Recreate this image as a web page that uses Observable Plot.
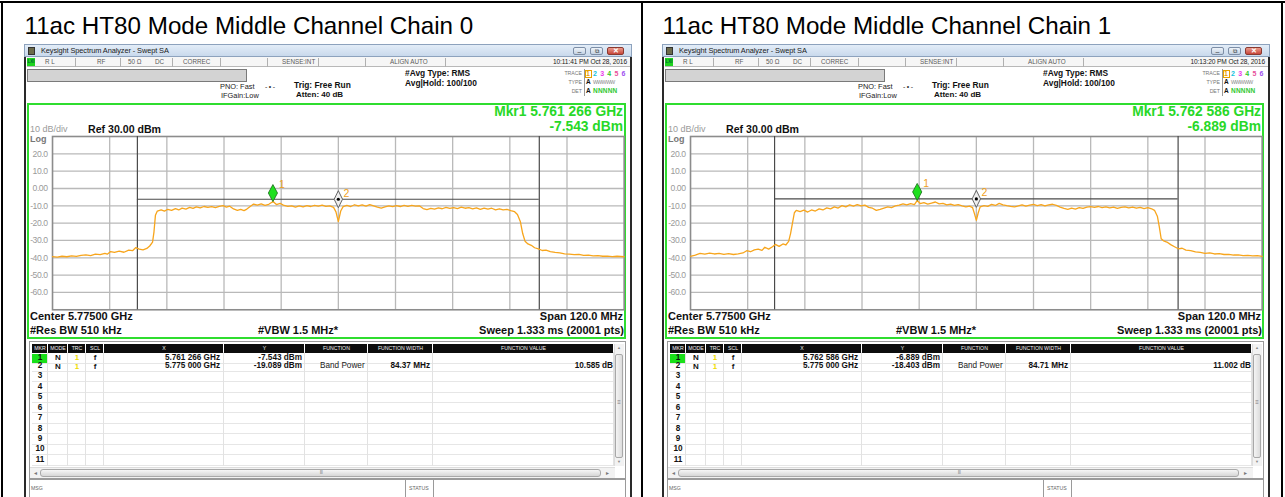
<!DOCTYPE html>
<html><head><meta charset="utf-8">
<script src="https://cdn.jsdelivr.net/npm/d3@7"></script>
<script src="https://cdn.jsdelivr.net/npm/@observablehq/plot@0.6"></script>
<style>
body{margin:0;background:#fff;}
#root{position:relative;width:1285px;height:497px;overflow:hidden;background:#fff;font-family:"Liberation Sans",Arial,sans-serif;}
.abs{position:absolute;white-space:nowrap;}
.bx{position:absolute;box-sizing:border-box;}
</style></head><body><div id="root"></div>
<script>
// ---------------- data ----------------
const titles = ["11ac HT80 Mode Middle Channel Chain 0", "11ac HT80 Mode Middle Channel Chain 1"];
const timestamps = ["10:11:41 PM Oct 28, 2016", "10:13:20 PM Oct 28, 2016"];
const mkr1Freq = [5.761266, 5.762586];
const mkr1Dbm = [-7.543, -6.889];
const mkr1FreqText = ["5.761 266 GHz", "5.762 586 GHz"];
const mkr1DbmText = ["-7.543 dBm", "-6.889 dBm"];
const mkr2Freq = [5.775, 5.775];
const mkr2Dbm = [-19.089, -18.403];
const mkr2FreqText = ["5.775 000 GHz", "5.775 000 GHz"];
const mkr2DbmText = ["-19.089 dBm", "-18.403 dBm"];
const bandWidthMHz = [84.37, 84.71];
const bandLineDbm = [-6.2, -6.0];
const bandPowerText = ["10.585 dB", "11.002 dB"];
const yTicks = [20, 10, 0, -10, -20, -30, -40, -50, -60];
const yTickLabels = ["20.0", "10.0", "0.00", "-10.0", "-20.0", "-30.0", "-40.0", "-50.0", "-60.0"];
const xGrid = [5.727, 5.739, 5.751, 5.763, 5.775, 5.787, 5.799, 5.811, 5.823];
const xDomain = [5.715, 5.835];
const yDomain = [-70, 30];

const freq0 = [5.7150,5.7160,5.7170,5.7180,5.7190,5.7200,5.7210,5.7220,5.7230,5.7240,5.7250,5.7260,5.7265,5.7272,5.7280,5.7290,5.7300,5.7310,5.7318,5.7325,5.7332,5.7340,5.7348,5.7354,5.7360,5.7363,5.7366,5.7370,5.7378,5.7385,5.7392,5.7400,5.7408,5.7415,5.7422,5.7430,5.7438,5.7445,5.7452,5.7460,5.7468,5.7476,5.7484,5.7492,5.7500,5.7508,5.7515,5.7522,5.7530,5.7538,5.7545,5.7552,5.7558,5.7565,5.7572,5.7580,5.7588,5.7596,5.7604,5.7613,5.7620,5.7628,5.7636,5.7644,5.7652,5.7660,5.7668,5.7676,5.7684,5.7692,5.7700,5.7708,5.7716,5.7724,5.7732,5.7740,5.7745,5.7750,5.7755,5.7760,5.7768,5.7776,5.7784,5.7792,5.7800,5.7808,5.7816,5.7824,5.7832,5.7840,5.7848,5.7856,5.7864,5.7872,5.7880,5.7888,5.7896,5.7904,5.7912,5.7920,5.7928,5.7936,5.7944,5.7952,5.7960,5.7968,5.7976,5.7984,5.7992,5.8000,5.8008,5.8016,5.8024,5.8032,5.8040,5.8048,5.8056,5.8064,5.8072,5.8080,5.8088,5.8096,5.8104,5.8112,5.8120,5.8126,5.8132,5.8137,5.8142,5.8148,5.8155,5.8162,5.8170,5.8178,5.8186,5.8195,5.8205,5.8215,5.8225,5.8235,5.8245,5.8255,5.8265,5.8275,5.8285,5.8295,5.8305,5.8315,5.8325,5.8335,5.8350];
const dbm0 = [-39.3,-39.6,-39.1,-39.4,-38.9,-39.2,-38.6,-38.3,-38.7,-37.9,-38.2,-37.5,-37.9,-36.4,-36.9,-36.2,-36.8,-35.6,-35.9,-34.1,-35.0,-35.4,-34.6,-33.2,-31.0,-25.0,-15.5,-13.0,-12.3,-13.1,-12.0,-12.6,-11.6,-12.4,-11.3,-11.9,-10.9,-11.5,-10.6,-11.2,-10.4,-10.9,-10.5,-11.0,-10.3,-9.9,-10.8,-10.2,-11.8,-12.6,-12.1,-12.8,-11.9,-10.4,-9.0,-9.6,-8.9,-9.7,-9.1,-7.5,-9.3,-8.6,-9.8,-10.3,-10.0,-10.7,-10.1,-10.6,-9.9,-10.4,-9.7,-10.2,-9.6,-10.3,-10.0,-10.9,-13.5,-19.1,-13.0,-10.5,-9.8,-10.4,-9.4,-10.1,-9.5,-10.2,-9.3,-10.0,-10.8,-11.3,-10.6,-10.1,-10.5,-9.9,-10.4,-9.8,-10.3,-9.7,-10.2,-10.0,-11.6,-12.2,-11.5,-11.9,-11.2,-11.7,-10.9,-11.5,-11.0,-11.6,-10.8,-11.4,-11.1,-11.8,-11.2,-12.0,-11.3,-11.9,-11.4,-12.3,-11.7,-12.4,-12.0,-12.8,-13.4,-15.0,-19.0,-26.0,-30.5,-32.0,-32.8,-34.2,-34.9,-35.8,-35.6,-36.4,-36.9,-37.2,-37.7,-37.9,-38.2,-38.0,-38.6,-38.5,-38.9,-38.7,-39.1,-39.0,-39.3,-39.1,-39.4];

const freq1 = [5.7150,5.7160,5.7170,5.7180,5.7190,5.7200,5.7210,5.7220,5.7230,5.7240,5.7250,5.7260,5.7268,5.7276,5.7284,5.7292,5.7300,5.7306,5.7314,5.7322,5.7328,5.7336,5.7344,5.7350,5.7356,5.7360,5.7364,5.7368,5.7372,5.7380,5.7388,5.7396,5.7404,5.7412,5.7420,5.7428,5.7436,5.7444,5.7452,5.7460,5.7468,5.7476,5.7484,5.7492,5.7500,5.7508,5.7516,5.7524,5.7532,5.7540,5.7548,5.7556,5.7564,5.7572,5.7580,5.7588,5.7596,5.7604,5.7612,5.7620,5.7626,5.7632,5.7640,5.7648,5.7656,5.7664,5.7672,5.7680,5.7688,5.7696,5.7704,5.7712,5.7720,5.7728,5.7736,5.7742,5.7746,5.7750,5.7754,5.7758,5.7766,5.7774,5.7782,5.7790,5.7798,5.7806,5.7814,5.7822,5.7830,5.7838,5.7846,5.7854,5.7862,5.7870,5.7878,5.7886,5.7894,5.7902,5.7910,5.7918,5.7926,5.7934,5.7942,5.7950,5.7958,5.7966,5.7974,5.7982,5.7990,5.7998,5.8006,5.8014,5.8022,5.8030,5.8038,5.8046,5.8054,5.8062,5.8070,5.8078,5.8086,5.8094,5.8102,5.8110,5.8118,5.8124,5.8130,5.8134,5.8138,5.8143,5.8150,5.8158,5.8166,5.8174,5.8182,5.8190,5.8200,5.8210,5.8220,5.8230,5.8240,5.8250,5.8260,5.8270,5.8280,5.8290,5.8300,5.8310,5.8320,5.8330,5.8340,5.8350];
const dbm1 = [-39.2,-38.4,-37.5,-37.9,-37.3,-37.8,-37.4,-38.0,-37.6,-38.1,-37.7,-37.2,-35.9,-36.5,-35.4,-35.0,-35.7,-33.9,-35.0,-33.6,-32.3,-33.4,-32.0,-32.6,-30.5,-26.0,-20.0,-14.0,-12.6,-13.3,-12.5,-13.6,-12.4,-13.0,-11.8,-12.4,-11.2,-11.8,-10.6,-11.3,-9.9,-10.6,-9.5,-10.2,-9.3,-10.1,-9.6,-10.9,-11.4,-12.6,-12.0,-11.3,-10.6,-11.0,-10.0,-9.6,-8.9,-9.5,-8.8,-9.3,-6.9,-8.7,-8.2,-9.0,-8.4,-7.8,-8.9,-8.6,-9.4,-9.0,-9.8,-9.3,-10.1,-10.6,-10.2,-11.0,-14.5,-18.4,-14.0,-10.6,-9.9,-10.3,-9.2,-9.8,-8.6,-9.4,-9.9,-10.3,-10.6,-10.1,-9.5,-10.2,-9.6,-9.2,-9.9,-9.3,-10.0,-9.4,-9.1,-9.8,-10.7,-11.5,-12.0,-11.4,-11.9,-11.0,-11.5,-10.8,-10.5,-10.9,-10.4,-11.1,-10.6,-11.2,-10.8,-11.5,-10.9,-10.6,-11.2,-10.7,-11.4,-10.9,-11.6,-11.1,-11.7,-12.6,-16.0,-22.0,-29.0,-30.2,-30.9,-32.4,-33.6,-34.8,-34.5,-35.6,-35.9,-36.6,-36.9,-37.4,-37.2,-37.8,-37.6,-38.1,-38.0,-38.4,-38.3,-38.7,-38.6,-38.9,-38.8,-39.2];

const freqs = [freq0, freq1];
const dbms = [dbm0, dbm1];

// ---------------- layout helpers ----------------
const W = 1285;
const root = document.getElementById("root");
function txt(x, y, s, o = {}) {
  const fs = o.fs || 8;
  const d = document.createElement("div");
  d.className = "abs";
  d.textContent = s;
  d.style.fontSize = fs + "px";
  d.style.lineHeight = fs + "px";
  d.style.top = (y - 0.49 * fs) + "px";
  if (o.align === "right") d.style.right = (W - x) + "px";
  else if (o.align === "center") { d.style.left = x + "px"; d.style.transform = "translateX(-50%)"; }
  else d.style.left = x + "px";
  d.style.color = o.color || "#000";
  if (o.bold) d.style.fontWeight = "bold";
  if (o.family) d.style.fontFamily = o.family;
  if (o.ls != null) d.style.letterSpacing = o.ls + "px";
  root.appendChild(d);
  return d;
}
function box(x, y, w, h, css = "") {
  const d = document.createElement("div");
  d.className = "bx";
  d.style.cssText = `left:${x}px;top:${y}px;width:${w}px;height:${h}px;` + css;
  root.appendChild(d);
  return d;
}

// outer table borders
box(0, 1, 1285, 2, "background:#000");
box(1, 1, 2, 496, "background:#000");
box(641, 1, 2, 496, "background:#000");
box(1281, 1, 2, 496, "background:#000");

// tall diamond symbols for markers
const tipDiamond = { draw(c) { c.moveTo(0, 0); c.lineTo(4.6, -8.5); c.lineTo(0, -17); c.lineTo(-4.6, -8.5); c.closePath(); } };
const midDiamond = { draw(c) { c.moveTo(0, -8.5); c.lineTo(4.2, 0); c.lineTo(0, 8.5); c.lineTo(-4.2, 0); c.closePath(); } };

const panelX = [24, 662];
const gridLeftRel = 28.3, gridW = 571.7, gridTop = 136, gridH = 173.3;
const green = "#2fdd2f";
const traceColor = "#f7a51c";

panelX.forEach((ox, i) => {
  // title
  txt(ox + 0.5, 26.3, titles[i], { fs: 24.2 });

  // window
  box(ox, 44, 608, 453, "background:#fff;border-left:2.5px solid #2a2a2a;border-right:2.5px solid #2a2a2a;");
  // title bar
  box(ox, 44, 608, 13, "background:linear-gradient(#e3edf8,#c9d9ec);border:1px solid #8da2bd;");
  box(ox + 4, 46.5, 7, 8, "background:#6b6a4a;border:1px solid #333;");
  txt(ox + 17, 50.8, "Keysight Spectrum Analyzer - Swept SA", { fs: 7.4, color: "#1a1a1a", ls: -0.1 });
  box(ox + 549, 46.5, 13, 8.5, "background:linear-gradient(#eef3f9,#c4d2e3);border:1px solid #7d8ea6;border-radius:2px;");
  box(ox + 566, 46.5, 13, 8.5, "background:linear-gradient(#eef3f9,#c4d2e3);border:1px solid #7d8ea6;border-radius:2px;");
  box(ox + 583, 46.5, 17, 8.5, "background:linear-gradient(#e99a8c,#c8473a);border:1px solid #8a3a30;border-radius:2px;");
  txt(ox + 555.5, 51.5, "–", { fs: 7, color: "#333", align: "center" });
  txt(ox + 572.5, 50.8, "⧉", { fs: 6, color: "#333", align: "center" });
  txt(ox + 591.5, 50.8, "✕", { fs: 6.5, color: "#fff", align: "center", bold: true });

  // status row
  box(ox + 2.5, 57, 603, 10, "background:#f6f6f6;border-bottom:1px solid #b8b8b8;");
  box(ox + 3, 58, 8, 8, `background:#1ed41e;`);
  txt(ox + 3.5, 62, "LXI", { fs: 4.5, color: "#063", bold: true });
  const st = [["R L", 21], ["RF", 73], ["50 Ω", 104], ["DC", 131], ["CORREC", 159], ["SENSE:INT", 258], ["ALIGN AUTO", 366]];
  st.forEach(([s, x]) => txt(ox + x, 62, s, { fs: 6.3, color: "#5a5a5a" }));
  [51, 96, 148, 196, 243, 294, 341, 421].forEach(x => box(ox + x, 57.5, 1, 9, "background:#b0b0b0;"));
  txt(ox + 603, 62, timestamps[i], { fs: 6.6, color: "#222", align: "right", ls: -0.1 });

  // header area
  box(ox + 3, 68.5, 220, 13.5, "background:#d3d3d3;border:1px solid #7a7a7a;");
  txt(ox + 196, 87, "PNO: Fast", { fs: 7.4, color: "#222" });
  txt(ox + 197, 96, "IFGain:Low", { fs: 7.4, color: "#222" });
  txt(ox + 241, 86.5, "-•-", { fs: 7, color: "#333", ls: 1.5 });
  txt(ox + 270, 85, "Trig: Free Run", { fs: 8.4, bold: true, color: "#111" });
  txt(ox + 272, 95, "Atten: 40 dB", { fs: 8, bold: true, color: "#111" });
  txt(ox + 381, 73.5, "#Avg Type: RMS", { fs: 8.4, bold: true, color: "#111" });
  txt(ox + 381, 83.5, "Avg|Hold: 100/100", { fs: 8.4, bold: true, color: "#111" });
  txt(ox + 558, 73.5, "TRACE", { fs: 5.2, color: "#777", align: "right" });
  txt(ox + 558, 82.5, "TYPE", { fs: 5.2, color: "#777", align: "right" });
  txt(ox + 558, 91.5, "DET", { fs: 5.2, color: "#777", align: "right" });
  box(ox + 559.5, 68.5, 44, 27, "border-left:1px solid #999;");
  const trC = ["#e9a000", "#14c3de", "#ea3aea", "#2ec82e", "#e8509a", "#a050f0"];
  trC.forEach((c, k) => txt(ox + 562 + k * 7.1, 73.5, String(k + 1), { fs: 7, color: c, bold: true }));
  box(ox + 560.5, 69.5, 7, 8, "border:1px solid #e9a000;");
  txt(ox + 562, 82.5, "A", { fs: 6.5, bold: true, color: "#111" });
  txt(ox + 569, 82.5, "WWWWW", { fs: 5.2, color: "#888", ls: -0.6 });
  txt(ox + 562, 91.5, "A", { fs: 6.5, bold: true, color: "#111" });
  txt(ox + 569, 91.5, "NNNNN", { fs: 6.5, bold: true, color: "#2ec82e", ls: 0.2 });

  // green display frame
  box(ox + 3, 103, 599, 236, `border:2.5px solid ${green};`);
  txt(ox + 599, 112, "Mkr1 " + mkr1FreqText[i], { fs: 13.8, bold: true, color: "#28d828", align: "right" });
  txt(ox + 599, 126.5, mkr1DbmText[i], { fs: 13.8, bold: true, color: "#28d828", align: "right" });
  txt(ox + 6, 129.6, "10 dB/div", { fs: 9, color: "#9a9a9a" });
  txt(ox + 6, 139.2, "Log", { fs: 9, color: "#777", bold: true });
  txt(ox + 64, 129.5, "Ref 30.00 dBm", { fs: 10.6, bold: true, color: "#111" });
  txt(ox + 6, 316, "Center 5.77500 GHz", { fs: 11, bold: true, color: "#111" });
  txt(ox + 599, 316, "Span 120.0 MHz", { fs: 11, bold: true, color: "#111", align: "right" });
  txt(ox + 6, 330.5, "#Res BW 510 kHz", { fs: 11, bold: true, color: "#111" });
  txt(ox + 234, 330.5, "#VBW 1.5 MHz*", { fs: 11, bold: true, color: "#111" });
  txt(ox + 600, 330.5, "Sweep  1.333 ms (20001 pts)", { fs: 11, bold: true, color: "#111", align: "right" });

  // ---- the spectrum plot ----
  const trace = freqs[i].map((f, k) => ({ f, p: dbms[i][k] }));
  const tickRows = yTicks.map((v, k) => ({ v, s: yTickLabels[k] }));
  const bLo = 5.775 - bandWidthMHz[i] / 2000, bHi = 5.775 + bandWidthMHz[i] / 2000;
  const mL = 40, mR = 3, mT = 4, mB = 4;
  const plot = Plot.plot({
    width: mL + gridW + mR,
    height: mT + gridH + mB,
    marginLeft: mL, marginRight: mR, marginTop: mT, marginBottom: mB,
    x: { domain: xDomain, axis: null },
    y: { domain: yDomain, axis: null },
    style: { background: "transparent", fontFamily: "Liberation Sans, Arial, sans-serif", overflow: "visible" },
    marks: [
      Plot.gridY(yTicks, { stroke: "#b9b9b9", strokeOpacity: 1, strokeWidth: 1.3 }),
      Plot.gridX(xGrid, { stroke: "#b9b9b9", strokeOpacity: 1, strokeWidth: 1.3 }),
      Plot.text(tickRows, { x: xDomain[0], y: "v", text: "s", textAnchor: "end", dx: -5, fill: "#9a9a9a", fontSize: 8.6 }),
      Plot.frame({ stroke: "#8c8c8c", strokeWidth: 1.6 }),
      Plot.ruleX([bLo, bHi], { stroke: "#4a4a4a", strokeWidth: 1.2 }),
      Plot.ruleY([bandLineDbm[i]], { x1: bLo, x2: bHi, stroke: "#4a4a4a", strokeWidth: 1.1 }),
      Plot.line(trace, { x: "f", y: "p", stroke: traceColor, strokeWidth: 1.3 }),
      Plot.dot([{ f: mkr1Freq[i], p: mkr1Dbm[i] }], { x: "f", y: "p", symbol: tipDiamond, fill: "#1fe01f", stroke: "#1a6a1a", strokeWidth: 0.8, r: 5 }),
      Plot.text([{ f: mkr1Freq[i], p: mkr1Dbm[i] }], { x: "f", y: "p", text: () => "1", dx: 9, dy: -17, fill: "#f0a020", fontSize: 10.5 }),
      Plot.dot([{ f: mkr2Freq[i], p: bandLineDbm[i] }], { x: "f", y: "p", symbol: midDiamond, fill: "#eeeeee", stroke: "#555", strokeWidth: 0.9, r: 5 }),
      Plot.dot([{ f: mkr2Freq[i], p: bandLineDbm[i] }], { x: "f", y: "p", r: 1.6, fill: "#000", stroke: "none" }),
      Plot.text([{ f: mkr2Freq[i], p: bandLineDbm[i] }], { x: "f", y: "p", text: () => "2", dx: 8, dy: -6, fill: "#f0a020", fontSize: 10.5 })
    ]
  });
  d3.select(plot).selectAll("text").filter(function () { return /\d\.\d/.test(this.textContent); })
    .style("letter-spacing", "-0.45px");
  plot.style.position = "absolute";
  plot.style.left = (ox + gridLeftRel - mL) + "px";
  plot.style.top = (gridTop - mT) + "px";
  root.appendChild(plot);

  // ---- marker table ----
  const cols = [["MKR", 8, 24], ["MODE", 24, 44], ["TRC", 44, 62], ["SCL", 62, 80], ["X", 80, 200], ["Y", 200, 281], ["FUNCTION", 281, 344], ["FUNCTION WIDTH", 344, 409], ["FUNCTION VALUE", 409, 590]];
  box(ox + 5, 341, 597, 138, "border:1px solid #9a9a9a;");
  cols.forEach(([s, a, b]) => {
    box(ox + a, 344, b - a - 1, 8.5, "background:#0d0d0d;");
    txt(ox + (a + b) / 2, 348.3, s, { fs: 5.2, color: "#f2f2f2", align: "center" });
  });
  const rowY = [358, 366.5, 376.5, 386.9, 397.3, 407.8, 418.2, 428.6, 439.1, 449.5, 460];
  rowY.forEach(y => box(ox + 8, y + 4.6, 582, 1, "background:#e6e6e6;"));
  cols.forEach(([s, a, b]) => box(ox + b - 1, 352, 1, 114, "background:#e2e2e2;"));
  box(ox + 8, 354, 15, 8.5, "background:#19e019;");
  rowY.forEach((y, k) => txt(ox + 16, y, String(k + 1), { fs: 8.2, bold: true, color: "#111", align: "center" }));
  [0, 1].forEach(r => {
    const y = rowY[r];
    txt(ox + 34, y, "N", { fs: 8, bold: true, color: "#111", align: "center" });
    txt(ox + 53, y, "1", { fs: 8, bold: true, color: "#f0dc00", align: "center" });
    txt(ox + 71, y, "f", { fs: 8, bold: true, color: "#111", align: "center" });
  });
  txt(ox + 196, rowY[0], mkr1FreqText[i], { fs: 8.2, bold: true, color: "#111", align: "right" });
  txt(ox + 278, rowY[0], mkr1DbmText[i], { fs: 8.2, bold: true, color: "#111", align: "right" });
  txt(ox + 196, rowY[1], mkr2FreqText[i], { fs: 8.2, bold: true, color: "#111", align: "right" });
  txt(ox + 278, rowY[1], mkr2DbmText[i], { fs: 8.2, bold: true, color: "#111", align: "right" });
  txt(ox + 296, rowY[1], "Band Power", { fs: 8.2, color: "#222" });
  txt(ox + 406, rowY[1], bandWidthMHz[i].toFixed(2) + " MHz", { fs: 8.2, bold: true, color: "#111", align: "right" });
  txt(ox + 589, rowY[1], bandPowerText[i], { fs: 8.2, bold: true, color: "#111", align: "right" });

  // vertical scrollbar
  box(ox + 590, 344, 10, 122, "background:#f2f2f2;border-left:1px solid #ddd;");
  txt(ox + 595, 348, "▲", { fs: 4, color: "#888", align: "center" });
  box(ox + 591, 354, 8, 104, "background:linear-gradient(90deg,#f4f4f4,#dcdcdc);border:1px solid #a8a8a8;border-radius:2px;");
  txt(ox + 595, 402, "≡", { fs: 6, color: "#777", align: "center" });
  txt(ox + 595, 462, "▼", { fs: 4, color: "#888", align: "center" });
  // horizontal scrollbar
  box(ox + 6, 467, 585, 11, "background:#f2f2f2;border-top:1px solid #ddd;");
  txt(ox + 10, 472.5, "◂", { fs: 6, color: "#777" });
  txt(ox + 582, 472.5, "▸", { fs: 6, color: "#777" });
  box(ox + 16, 468.5, 561, 8, "background:linear-gradient(#f6f6f6,#d6d6d6);border:1px solid #a8a8a8;border-radius:3px;");
  txt(ox + 297, 472.5, "III", { fs: 5, color: "#888", align: "center", ls: -0.5 });
  // message row
  box(ox + 5, 479, 597, 18, "border-top:1px solid #9a9a9a;border-left:1px solid #9a9a9a;border-right:1px solid #9a9a9a;");
  txt(ox + 7, 488.5, "MSG", { fs: 5.2, color: "#666" });
  box(ox + 381, 479, 1, 18, "background:#9a9a9a;");
  txt(ox + 385, 488.5, "STATUS", { fs: 5.2, color: "#666" });
  box(ox + 409, 479, 1, 18, "background:#9a9a9a;");
});
</script></body></html>
